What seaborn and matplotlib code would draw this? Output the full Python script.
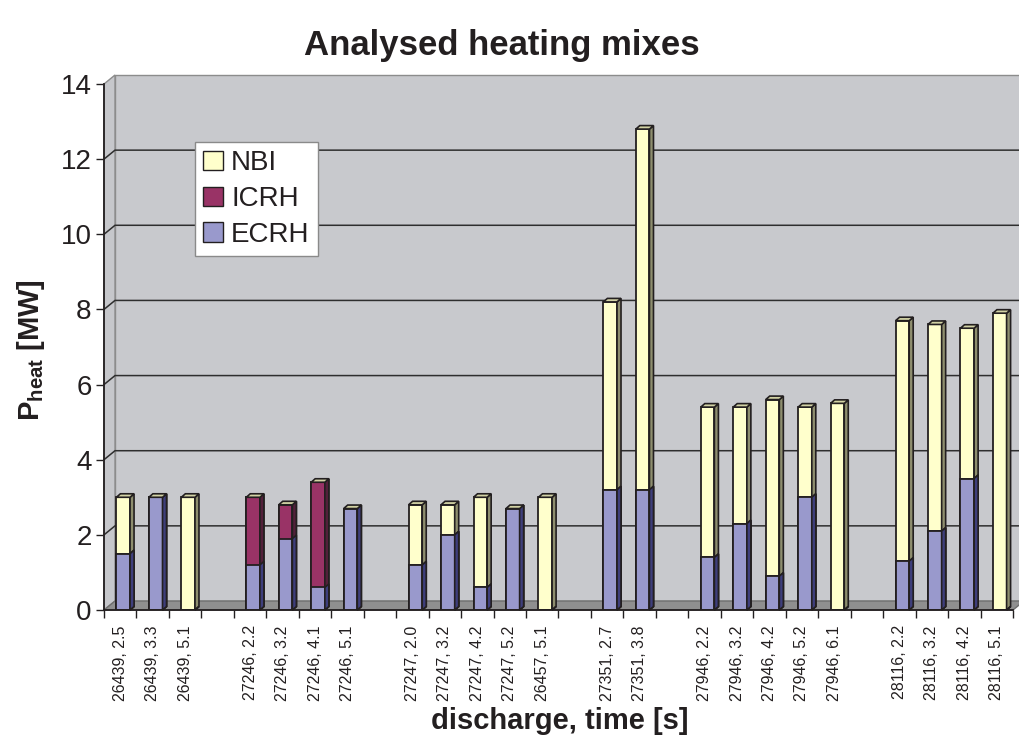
import numpy as np
import pandas as pd
import matplotlib
matplotlib.use("Agg")
import matplotlib.pyplot as plt
import seaborn as sns
from matplotlib.patches import Polygon, Patch
from matplotlib.lines import Line2D
from matplotlib.transforms import IdentityTransform, ScaledTranslation

# Discharge / time slots; empty strings separate the discharge groups
categories = [
    "26439, 2.5", "26439, 3.3", "26439, 5.1", "",
    "27246, 2.2", "27246, 3.2", "27246, 4.1", "27246, 5.1", "",
    "27247, 2.0", "27247, 3.2", "27247, 4.2", "27247, 5.2", "26457, 5.1", "",
    "27351, 2.7", "27351, 3.8", "",
    "27946, 2.2", "27946, 3.2", "27946, 4.2", "27946, 5.2", "27946, 6.1", "",
    "28116, 2.2", "28116, 3.2", "28116, 4.2", "28116, 5.1",
]

# Heating power per source [MW]
ecrh = [1.5, 3.0, 0.0, None,
        1.2, 1.9, 0.6, 2.7, None,
        1.2, 2.0, 0.6, 2.7, 0.0, None,
        3.2, 3.2, None,
        1.4, 2.3, 0.9, 3.0, 0.0, None,
        1.3, 2.1, 3.5, 0.0]
icrh = [0.0, 0.0, 0.0, None,
        1.8, 0.9, 2.8, 0.0, None,
        0.0, 0.0, 0.0, 0.0, 0.0, None,
        0.0, 0.0, None,
        0.0, 0.0, 0.0, 0.0, 0.0, None,
        0.0, 0.0, 0.0, 0.0]
nbi = [1.5, 0.0, 3.0, None,
       0.0, 0.0, 0.0, 0.0, None,
       1.6, 0.8, 2.4, 0.0, 3.0, None,
       5.0, 9.6, None,
       4.0, 3.1, 4.7, 2.4, 5.5, None,
       6.4, 5.5, 4.0, 7.9]

series_names = ["NBI", "ICRH", "ECRH"]
y_ticks = [0, 2, 4, 6, 8, 10, 12, 14]

sns.set_theme(style="white")
plt.rcParams["font.family"] = ["Liberation Sans", "DejaVu Sans"]
plt.rcParams["mathtext.fontset"] = "custom"
plt.rcParams["mathtext.rm"] = "Liberation Sans"
plt.rcParams["mathtext.bf"] = "Liberation Sans:bold"
plt.rcParams["text.color"] = "#231F20"

INK = "#231F20"
face = {"NBI": "#FFFFCC", "ICRH": "#993366", "ECRH": "#9999CC"}
side = {"NBI": "#8E8E6E", "ICRH": "#52203A", "ECRH": "#3E3E7C"}
top_color = "#D2D2A4"

DPI = 100
W, H = 1019, 740
fig = plt.figure(figsize=(W / DPI, H / DPI), dpi=DPI)
ax = fig.add_axes([104 / W, 130 / H, 909 / W, 526 / H])
ax.patch.set_visible(False)

# unique keys for the category axis (blank gap slots need distinct names)
slot_keys = [lab if lab else " " * (i + 1) for i, lab in enumerate(categories)]
df = pd.DataFrame({"slot": slot_keys, "ECRH": ecrh, "ICRH": icrh, "NBI": nbi}).dropna()
df["lower"] = df["ECRH"]
df["middle"] = df["ECRH"] + df["ICRH"]
df["total"] = df["middle"] + df["NBI"]

# stacked columns drawn as overlapping cumulative layers
layers = [("total", "NBI"), ("middle", "ICRH"), ("lower", "ECRH")]
layer_patches = {}
for k, (col, name) in enumerate(layers):
    n0 = len(ax.patches)
    sns.barplot(data=df, x="slot", y=col, order=slot_keys, color=face[name],
                saturation=1, width=0.42, edgecolor=INK, linewidth=1.3,
                errorbar=None, ax=ax, zorder=3 + 0.1 * k)
    layer_patches[name] = list(ax.patches[n0:])

ax.set_xlim(-0.5, len(categories) - 0.5)
ax.set_ylim(y_ticks[0], y_ticks[-1])
ax.set_xlabel("")
ax.set_ylabel("")

# pixel depth of the walls and of the columns; columns sit slightly inside the depth
DX, DY = 11, 9
BX, BY = 4, 3.5
SHIFT = 3
ident = IdentityTransform()
to_disp = ax.transData.transform
(x0d, y0d), (x1d, y1d) = ax.transAxes.transform([(0, 0), (1, 1)])

# back wall, side wall and floor
ax.add_patch(Polygon([(x0d + DX, y0d + DY), (x1d + DX, y0d + DY),
                      (x1d + DX, y1d + DY), (x0d + DX, y1d + DY)],
                     closed=True, facecolor="#C8C9CD", edgecolor="#8C8C8C",
                     lw=1, transform=ident, clip_on=False, zorder=0.5))
ax.add_patch(Polygon([(x0d, y0d), (x0d + DX, y0d + DY), (x0d + DX, y1d + DY), (x0d, y1d)],
                     closed=True, facecolor="#C6C7CB", edgecolor="#8C8C8C",
                     lw=1, transform=ident, clip_on=False, zorder=0.6))
ax.add_patch(Polygon([(x0d, y0d), (x1d, y0d), (x1d + DX, y0d + DY), (x0d + DX, y0d + DY)],
                     closed=True, facecolor="#8F8F8F", edgecolor="#6E6E6E",
                     lw=1, transform=ident, clip_on=False, zorder=0.7))

# gridlines on the walls
for v in y_ticks[1:-1]:
    yd = to_disp((0, v))[1]
    ax.add_line(Line2D([x0d, x0d + DX, x1d + DX], [yd, yd + DY, yd + DY],
                       color="#2E2E2E", lw=1.1, transform=ident, clip_on=False,
                       zorder=0.8))

# move front faces a few pixels into the depth, then add side and top faces
shift_tr = ax.transData + ScaledTranslation(SHIFT / DPI, 0, fig.dpi_scale_trans)
for k, (col, name) in enumerate(layers):
    for p in layer_patches[name]:
        h = p.get_height()
        if not np.isfinite(h):
            continue
        p.set_transform(shift_tr)
        x0, w, yb0 = p.get_x(), p.get_width(), p.get_y()
        (xa, ya) = to_disp((x0, yb0))
        (xb, yb) = to_disp((x0 + w, yb0 + h))
        xa += SHIFT
        xb += SHIFT
        ax.add_patch(Polygon([(xb, ya), (xb + BX, ya + BY), (xb + BX, yb + BY), (xb, yb)],
                             closed=True, facecolor=side[name], edgecolor=INK,
                             lw=1.2, transform=ident, clip_on=False,
                             zorder=3 + 0.1 * k))
        if name == "NBI":
            ax.add_patch(Polygon([(xa, yb), (xb, yb), (xb + BX, yb + BY), (xa + BX, yb + BY)],
                                 closed=True, facecolor=top_color, edgecolor=INK,
                                 lw=1.2, transform=ident, clip_on=False, zorder=3.5))

# axes lines and ticks
for s in ["top", "right"]:
    ax.spines[s].set_visible(False)
for s in ["left", "bottom"]:
    ax.spines[s].set_color(INK)
    ax.spines[s].set_linewidth(1.3)
    ax.spines[s].set_zorder(4)

ax.set_yticks(y_ticks)
ax.set_yticklabels([str(t) for t in y_ticks])
ax.tick_params(axis="y", which="major", left=True, length=6, width=1, color=INK,
               labelsize=20, pad=3, labelcolor=INK)

n = len(categories)
ax.set_xticks(range(n))
ax.set_xticklabels(categories, rotation=90, fontsize=11.5, color=INK)
ax.set_xticks(np.arange(n + 1) - 0.5, minor=True)
ax.tick_params(axis="x", which="major", bottom=True, length=0, pad=11)
ax.tick_params(axis="x", which="minor", bottom=True, length=6, width=1, color=INK)
ax.grid(False)

# legend
handles = [Patch(facecolor=face[nm], edgecolor=INK, lw=1) for nm in series_names]
leg = ax.legend(handles, series_names, loc="upper left",
                bbox_to_anchor=((195 - 104) / 909, (610 - 142) / 526),
                bbox_transform=ax.transAxes, borderaxespad=0, fontsize=20,
                frameon=True, fancybox=False, framealpha=1, edgecolor="#8A8A8A",
                handlelength=0.7, handleheight=0.7, handletextpad=0.3,
                labelspacing=0.35, borderpad=0.3)
leg.get_frame().set_linewidth(1)
leg.set_zorder(6)

# titles
fig.text(502 / W, 1 - 45 / H, "Analysed heating mixes", fontsize=25,
         fontweight="bold", ha="center", va="center")
fig.text(560 / W, 1 - 721 / H, "discharge, time [s]", fontsize=21,
         fontweight="bold", ha="center", va="center")
fig.text(31 / W, 1 - 350 / H, r"$\mathbf{P_{heat}}$ [MW]", fontsize=21,
         fontweight="bold", rotation=90, ha="center", va="center")

fig.savefig("out.png", dpi=DPI)
